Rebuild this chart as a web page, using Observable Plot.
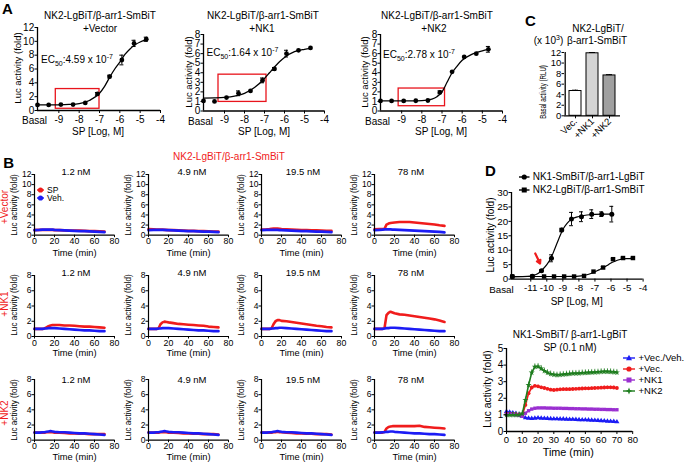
<!DOCTYPE html>
<html><head><meta charset="utf-8">
<script src="https://cdn.jsdelivr.net/npm/d3@7"></script>
<script src="https://cdn.jsdelivr.net/npm/@observablehq/plot@0.6"></script>
<style>
body{margin:0;background:#fff;}
#fig{position:relative;width:685px;height:463px;overflow:hidden;font-family:"Liberation Sans",Arial,Helvetica,sans-serif;color:#000;background:#fff;}
.t{position:absolute;white-space:nowrap;line-height:1;}
.t sub,.t sup{font-size:70%;line-height:0;}
</style></head><body><div id="fig"></div><script>
// ---------------- DATA ----------------
// Panel A: dose-response (log M); first value = Basal
const concA = [-10.05, -9.5, -8.9, -8.3, -7.7, -7.1, -6.5, -5.9, -5.3, -4.7];
const a1Y = [0.8, 0.8, 0.85, 0.85, 1.1, 2.4, 4.9, 7.3, 9.7, 10.3];
const a1E = [0.05, 0.05, 0.05, 0.05, 0.1, 0.2, 0.2, 0.7, 0.45, 0.3];
const a2Y = [1.05, 1.0, 1.4, 1.85, 2.1, 3.2, 4.4, 6.0, 6.35, 6.6];
const a2E = [0.05, 0.05, 0.05, 0.25, 0.1, 0.25, 0.15, 0.35, 0.1, 0.1];
const a3Y = [1.05, 1.05, 1.05, 1.07, 1.1, 1.95, 4.1, 5.65, 6.0, 6.45];
const a3E = [0.05, 0.05, 0.05, 0.05, 0.05, 0.15, 0.1, 0.1, 0.1, 0.3];
// fitted curves
const fit1X = [-10.05, -9.5, -9, -8.5, -8, -7.5, -7, -6.75, -6.5, -6.25, -6, -5.75, -5.5, -5.25, -5, -4.7];
const fit1Y = [0.8, 0.8, 0.82, 0.88, 1.0, 1.45, 2.5, 3.5, 4.8, 6.0, 7.0, 8.1, 8.9, 9.5, 9.9, 10.2];
const fit2X = [-10.05, -9.5, -9, -8.5, -8, -7.5, -7, -6.75, -6.5, -6.25, -6, -5.5, -5, -4.7];
const fit2Y = [1.35, 1.37, 1.42, 1.55, 1.85, 2.45, 3.4, 4.0, 4.6, 5.15, 5.6, 6.2, 6.45, 6.55];
const fit3X = [-10.05, -9.5, -9, -8.5, -8, -7.5, -7.25, -7, -6.75, -6.5, -6.25, -6, -5.5, -5, -4.7];
const fit3Y = [1.05, 1.05, 1.05, 1.05, 1.08, 1.25, 1.5, 2.0, 3.0, 4.0, 4.7, 5.3, 5.95, 6.3, 6.45];
const boxA1 = [{x1: -9.15, x2: -7.0, y1: 0.25, y2: 3.1}];
const boxA2 = [{x1: -9.3, x2: -6.9, y1: 0.95, y2: 3.8}];
const boxA3 = [{x1: -9.15, x2: -6.85, y1: 0.5, y2: 2.35}];
const ticksA = [-9, -8, -7, -6, -5, -4];
// Panel C
const cNames = ["Vec.", "+NK1", "+NK2"];
const cVals = [4.7, 11.85, 7.65];
const cErr = [0.15, 0.15, 0.15];
const cFill = ["#ffffff", "#d4d4d4", "#a0a0a0"];
// Panel B time courses
const tB = [0, 5, 8, 10, 12, 14, 16, 18, 20, 25, 30, 35, 40, 45, 50, 55, 60, 65, 70];
const concB = ["1.2 nM", "4.9 nM", "19.5 nM", "78 nM"];
const vectorSP = [
 [1.0,1.05,1.05,1.05,1.05,1.05,1.05,1.05,1.0,1.0,0.95,0.9,0.9,0.9,0.85,0.8,0.8,0.75,0.7],
 [1.2,1.15,1.1,1.1,1.1,1.1,1.05,1.05,1.0,1.0,0.95,0.9,0.85,0.85,0.8,0.8,0.75,0.7,0.7],
 [1.1,1.15,1.2,1.25,1.3,1.3,1.3,1.25,1.2,1.15,1.1,1.05,1.0,1.0,0.95,0.95,0.9,0.85,0.85],
 [1.15,1.2,1.2,1.25,2.1,2.3,2.4,2.45,2.5,2.6,2.6,2.6,2.5,2.4,2.3,2.2,2.1,1.95,1.85]];
const vectorVeh = [
 [1.0,1.05,1.1,1.1,1.1,1.1,1.1,1.1,1.05,1.0,0.95,0.9,0.85,0.8,0.8,0.75,0.7,0.65,0.6],
 [1.0,1.05,1.05,1.05,1.05,1.05,1.05,1.0,1.0,0.95,0.9,0.85,0.8,0.8,0.75,0.7,0.7,0.65,0.6],
 [1.0,1.05,1.05,1.05,1.05,1.05,1.05,1.0,1.0,0.95,0.9,0.85,0.8,0.8,0.75,0.7,0.7,0.65,0.6],
 [1.0,1.05,1.1,1.15,1.15,1.15,1.15,1.1,1.1,1.05,1.0,0.95,0.9,0.85,0.8,0.75,0.7,0.65,0.55]];
const nk1SP = [
 [1.0,1.0,1.0,1.05,1.2,1.35,1.45,1.5,1.5,1.5,1.45,1.45,1.4,1.35,1.3,1.3,1.25,1.2,1.15],
 [1.0,1.0,1.0,1.05,1.6,1.85,1.95,1.9,1.85,1.75,1.65,1.6,1.55,1.5,1.45,1.4,1.3,1.25,1.2],
 [1.0,1.0,1.0,1.05,1.6,2.0,2.15,2.15,2.05,2.0,1.9,1.8,1.7,1.6,1.5,1.4,1.35,1.25,1.2],
 [1.0,1.0,1.0,1.1,2.8,3.1,3.25,3.15,3.05,2.9,2.85,2.75,2.65,2.55,2.45,2.35,2.25,2.1,1.9]];
const nk1Veh = [
 [1.0,1.0,1.0,1.05,1.05,1.1,1.1,1.1,1.1,1.05,1.0,0.95,0.9,0.85,0.8,0.8,0.75,0.7,0.7],
 [1.0,1.0,1.0,1.05,1.05,1.1,1.1,1.1,1.1,1.05,1.0,0.95,0.9,0.85,0.8,0.8,0.75,0.7,0.7],
 [1.0,1.0,1.0,1.05,1.05,1.1,1.1,1.15,1.15,1.1,1.05,1.0,0.95,0.9,0.85,0.8,0.75,0.7,0.7],
 [1.0,1.0,1.0,1.05,1.1,1.1,1.15,1.15,1.15,1.1,1.05,1.0,0.95,0.9,0.85,0.8,0.75,0.7,0.7]];
const nk2SP = [
 [1.0,1.0,1.0,1.0,1.05,1.05,1.05,1.05,1.0,1.0,0.95,0.9,0.9,0.85,0.85,0.8,0.8,0.8,0.8],
 [1.0,1.0,1.0,1.0,1.05,1.05,1.05,1.05,1.0,1.0,0.95,0.9,0.9,0.85,0.85,0.8,0.8,0.8,0.75],
 [1.0,1.0,1.0,1.0,1.05,1.05,1.1,1.05,1.05,1.0,0.95,0.9,0.9,0.85,0.85,0.8,0.8,0.8,0.75],
 [1.0,1.0,1.0,1.1,1.55,1.75,1.8,1.85,1.85,1.85,1.85,1.85,1.85,1.9,1.75,1.7,1.65,1.6,1.55]];
const nk2Veh = [
 [1.0,1.0,1.05,1.05,1.1,1.15,1.2,1.15,1.1,1.05,1.05,1.0,0.95,0.9,0.9,0.85,0.8,0.75,0.7],
 [1.0,1.0,1.05,1.05,1.1,1.15,1.2,1.15,1.1,1.05,1.05,1.0,0.95,0.9,0.9,0.85,0.8,0.75,0.7],
 [1.0,1.0,1.05,1.05,1.1,1.15,1.2,1.15,1.1,1.05,1.05,1.0,0.95,0.9,0.9,0.85,0.8,0.75,0.7],
 [1.0,1.0,1.05,1.05,1.1,1.1,1.15,1.15,1.1,1.05,1.0,0.95,0.9,0.9,0.85,0.8,0.8,0.75,0.7]];
// Panel D top
const nk1X = [-12.15, -10.9, -10.33, -9.71, -9.07, -8.46, -7.84, -7.2, -6.58, -5.95];
const nk1Y = [0.9, 1.0, 2.9, 7.2, 17.0, 20.8, 21.6, 22.5, 22.5, 22.5];
const nk1E = [0.1, 0.1, 0.3, 1.2, 0.6, 2.3, 1.7, 1.5, 0.8, 2.7];
const nk2X = [-12.15, -10.9, -10.17, -9.55, -8.92, -8.3, -7.68, -7.09, -6.49, -5.87, -5.25, -4.63];
const nk2Y = [0.9, 0.9, 0.9, 0.9, 0.9, 0.9, 1.1, 2.6, 4.0, 6.9, 7.3, 7.3];
const nk2E = [0.1, 0.1, 0.1, 0.1, 0.1, 0.1, 0.1, 0.2, 0.3, 0.3, 0.3, 0.3];
const fitNk1X = [-12.2, -11.5, -11, -10.75, -10.5, -10.25, -10, -9.75, -9.5, -9.25, -9, -8.75, -8.5, -8, -7.5, -7, -6.5, -5.95];
const fitNk1Y = [0.8, 0.85, 1.0, 1.4, 2.1, 3.4, 5.0, 7.2, 10.5, 14.0, 17.2, 19.2, 20.6, 21.7, 22.2, 22.4, 22.5, 22.5];
const fitNk2X = [-12.2, -11, -10, -9, -8.5, -8, -7.75, -7.5, -7.25, -7, -6.75, -6.5, -6.25, -6, -5.75, -5.5, -5, -4.63];
const fitNk2Y = [0.9, 0.9, 0.9, 0.9, 0.95, 1.05, 1.2, 1.5, 1.95, 2.5, 3.2, 3.9, 4.7, 5.6, 6.2, 6.7, 7.1, 7.2];
const arrowD = [{x1: -10.72, y1: 8.9, x2: -10.42, y2: 5.4}];
const ticksD = [-11, -10, -9, -8, -7, -6, -5, -4];
// Panel D bottom
const tD = [0,2,4,6,8,10,12,14,16,18,20,22,24,26,28,30,32,34,36,38,40,42,44,46,48,50,52,54,56,58,60,62,64,66,68,70];
const vecVeh = [1.2,1.16,1.12,1.08,1.02,0.92,0.82,0.8,0.78,0.8,0.82,0.8,0.79,0.78,0.77,0.76,0.76,0.75,0.75,0.74,0.73,0.73,0.72,0.71,0.7,0.7,0.69,0.68,0.67,0.66,0.65,0.64,0.62,0.61,0.6,0.58];
const vecSP = [1.06,1.06,1.05,1.04,1.02,0.98,1.6,2.3,2.65,2.75,2.72,2.66,2.62,2.57,2.52,2.5,2.52,2.54,2.55,2.55,2.55,2.56,2.57,2.58,2.59,2.6,2.6,2.61,2.62,2.63,2.64,2.65,2.66,2.66,2.65,2.62];
const withNK1 = [1.03,1.03,1.02,1.0,0.97,0.92,1.1,1.25,1.35,1.4,1.42,1.42,1.42,1.41,1.41,1.4,1.4,1.4,1.39,1.39,1.38,1.38,1.37,1.37,1.36,1.36,1.35,1.35,1.34,1.34,1.33,1.33,1.32,1.32,1.31,1.31];
const withNK2 = [1.0,1.0,1.0,1.0,1.0,1.08,1.9,2.8,3.55,3.9,3.92,3.8,3.65,3.55,3.47,3.43,3.4,3.42,3.44,3.46,3.48,3.5,3.5,3.51,3.53,3.54,3.55,3.56,3.57,3.58,3.6,3.61,3.61,3.6,3.58,3.56];
const errD = {veh: 0.04, sp: 0.08, nk1: 0.05, nk2: 0.18};

// ---------------- HELPERS ----------------
const F = '"Liberation Sans", Arial, Helvetica, sans-serif';
const RED = "#f01c1c", BLUE = "#1c1cf5", PURPLE = "#9a2fd0", GREEN = "#1f7d1f";
const fig = document.getElementById("fig");

function txt(x, y, html, o = {}) {
  const d = document.createElement("div");
  d.className = "t";
  d.style.left = x + "px"; d.style.top = y + "px";
  d.style.fontSize = (o.size || 10) + "px";
  d.style.color = o.color || "#000";
  if (o.bold) d.style.fontWeight = "bold";
  const tx = o.anchor === "l" ? "0" : o.anchor === "r" ? "-100%" : "-50%";
  d.style.transform = `translate(${tx},-50%)` + (o.rot ? " rotate(-90deg)" : "") + (o.sx ? ` scaleX(${o.sx})` : "");
  d.innerHTML = html;
  fig.appendChild(d);
}
function swatch(x, y, color, symbol, w) {
  const ns = "http://www.w3.org/2000/svg";
  const s = document.createElementNS(ns, "svg");
  s.setAttribute("width", w + 8); s.setAttribute("height", 10);
  s.style.position = "absolute"; s.style.left = (x - 4) + "px"; s.style.top = (y - 5) + "px";
  const cx = 4 + w / 2;
  let shape;
  if (symbol === "circle") shape = `<circle cx="${cx}" cy="5" r="2.6" fill="${color}"/>`;
  else if (symbol === "square") shape = `<rect x="${cx-2.5}" y="2.5" width="5" height="5" fill="${color}"/>`;
  else if (symbol === "triangle") shape = `<path d="M${cx},1.8L${cx+3},7.2L${cx-3},7.2Z" fill="${color}"/>`;
  else shape = `<path d="M${cx},1.5L${cx+1},4L${cx+3.5},5L${cx+1},6L${cx},8.5L${cx-1},6L${cx-3.5},5L${cx-1},4Z" fill="${color}"/>`;
  s.innerHTML = `<line x1="4" x2="${4+w}" y1="5" y2="5" stroke="${color}" stroke-width="1.4"/>` + shape;
  fig.appendChild(s);
}
function panel(g, opts) {
  const m = 30;
  const svg = Plot.plot({
    width: g.x1 - g.x0 + 2 * m, height: g.y0 - g.y1 + 2 * m, margin: m,
    x: opts.x, y: opts.y, color: opts.color,
    style: {background: "transparent", overflow: "visible", fontFamily: F, fontSize: (opts.fs || 10) + "px", color: "#000"},
    marks: opts.marks
  });
  svg.style.position = "absolute"; svg.style.left = (g.x0 - m) + "px"; svg.style.top = (g.y1 - m) + "px";
  svg.style.maxWidth = "none";
  fig.appendChild(svg);
}
const rows = (xs, ys, es) => xs.map((x, i) => ({x, y: ys[i], e: es ? es[i] : 0}));
function errMarks(data, cap, minE = 0.12) {
  const d = data.filter(p => p.e >= minE);
  return [
    Plot.ruleX(d, {x: "x", y1: p => p.y - p.e, y2: p => p.y + p.e, stroke: "#000", strokeWidth: 1}),
    Plot.ruleY(d, {y: p => p.y + p.e, x1: p => p.x - cap, x2: p => p.x + cap, stroke: "#000", strokeWidth: 1}),
    Plot.ruleY(d, {y: p => p.y - p.e, x1: p => p.x - cap, x2: p => p.x + cap, stroke: "#000", strokeWidth: 1})
  ];
}
const fmt = d => String(d);

// ---------------- PANEL A ----------------
function panelA(g, ys, es, fx, fy, box, yMax) {
  const pts = rows(concA, ys, es);
  const fit = fx.map((x, i) => ({x, y: fy[i]}));
  const yt = []; for (let v = 0; v <= yMax; v += (yMax > 8 ? 2 : 1)) yt.push(v);
  panel(g, {
    x: {domain: [-10.05, -4]}, y: {domain: [0, yMax]},
    marks: [
      Plot.rect(box, {x1: "x1", x2: "x2", y1: "y1", y2: "y2", fill: "none", stroke: "#e8141c", strokeWidth: 1.3}),
      Plot.line(fit, {x: "x", y: "y", curve: "monotone-x", stroke: "#000", strokeWidth: 1.3}),
      ...errMarks(pts, 0.1),
      Plot.dot(pts, {x: "x", y: "y", r: 2.4, fill: "#000"}),
      Plot.ruleX([-10.05], {stroke: "#000", strokeWidth: 1.3}),
      Plot.ruleY([0], {stroke: "#000", strokeWidth: 1.3}),
      Plot.axisX({ticks: ticksA, tickSize: 3, tickPadding: 2, tickFormat: fmt, label: null}),
      Plot.axisX({ticks: [-10.05], tickSize: 0, tickPadding: 6.5, tickFormat: () => "Basal", dx: -3, label: null}),
      Plot.axisY({ticks: yt, tickSize: 2.5, tickPadding: 0.8, tickFormat: fmt, label: null})
    ]
  });
}
panelA({x0: 37, x1: 160, y0: 110, y1: 27}, a1Y, a1E, fit1X, fit1Y, boxA1, 12);
panelA({x0: 203, x1: 324, y0: 110.5, y1: 34}, a2Y, a2E, fit2X, fit2Y, boxA2, 8);
panelA({x0: 379.5, x1: 501.5, y0: 110.5, y1: 34}, a3Y, a3E, fit3X, fit3Y, boxA3, 8);

const titleA = "NK2-LgBiT/β-arr1-SmBiT";
txt(100, 16, titleA); txt(100, 28.5, "+Vector");
txt(263, 16, titleA); txt(262, 28.5, "+NK1");
txt(437, 16, titleA); txt(434, 28.5, "+NK2");
txt(17.5, 68, "Luc activity (fold)", {rot: true, size: 9.5});
txt(188.5, 72, "Luc activity (fold)", {rot: true, size: 9.5});
txt(365, 72, "Luc activity (fold)", {rot: true, size: 9.5});
txt(98, 132, "SP [Log, M]"); txt(264, 132, "SP [Log, M]"); txt(441, 132, "SP [Log, M]");
txt(41, 60, "EC<sub>50</sub>:4.59 x 10<sup>-7</sup>", {anchor: "l"});
txt(206.5, 53, "EC<sub>50</sub>:1.64 x 10<sup>-7</sup>", {anchor: "l"});
txt(383, 55, "EC<sub>50</sub>:2.78 x 10<sup>-7</sup>", {anchor: "l"});
txt(7.5, 8, "A", {bold: true, size: 15});

// ---------------- PANEL C ----------------
const cData = cNames.map((n, i) => ({n, v: cVals[i], e: cErr[i], f: cFill[i]}));
panel({x0: 564, x1: 620, y0: 115, y1: 51.7}, {
  x: {type: "band", domain: cNames, paddingInner: 0.28, paddingOuter: 0.222},
  y: {domain: [0, 12]}, color: {type: "identity"}, fs: 9.5,
  marks: [
    Plot.ruleX(cData, {x: "n", y1: d => d.v, y2: d => d.v + d.e, stroke: "#000", strokeWidth: 1}),
    Plot.barY(cData, {x: "n", y: "v", fill: "f", stroke: "#000", strokeWidth: 1}),
    Plot.tickY(cData, {x: "n", y: d => d.v + d.e, stroke: "#000", strokeWidth: 1, inset: 3}),
    Plot.ruleX(["Vec."], {dx: -10.3, stroke: "#000", strokeWidth: 1.3}),
    Plot.ruleY([0], {stroke: "#000", strokeWidth: 1.3}),
    Plot.axisX({tickRotate: -45, tickSize: 3, tickPadding: 1, label: null}),
    Plot.axisY({ticks: [0, 2, 4, 6, 8, 10, 12], tickSize: 2.5, tickPadding: 0.8, tickFormat: fmt, label: null})
  ]
});
txt(530.5, 19.5, "C", {bold: true, size: 15});
txt(598, 29, "NK2-LgBiT/");
txt(597, 41, "β-arr1-SmBiT");
txt(548.5, 41, "(x 10<sup>3</sup>)");
txt(542.5, 91.7, "Basal activity (RLU)", {rot: true, size: 8.5, sx: 0.72});

// ---------------- PANEL B ----------------
const colX = [33.5, 147.5, 260.5, 373.5];
const titleX = [76, 192, 303, 411];
const rowSpec = [
  {y0: 235, y1: 174.3, yMax: 12, yt: [0, 2, 4, 6, 8, 10, 12], sp: vectorSP, veh: vectorVeh, title: 172.3, time: 253.8, lab: "+Vector", labY: 207},
  {y0: 335.5, y1: 274.5, yMax: 8, yt: [0, 2, 4, 6, 8], sp: nk1SP, veh: nk1Veh, title: 273.3, time: 354.3, lab: "+NK1", labY: 304},
  {y0: 440, y1: 379.3, yMax: 8, yt: [0, 2, 4, 6, 8], sp: nk2SP, veh: nk2Veh, title: 380, time: 457.5, lab: "+NK2", labY: 413}
];
rowSpec.forEach(r => {
  colX.forEach((x0, c) => {
    const sp = tB.map((t, i) => ({t, v: r.sp[c][i]}));
    const veh = tB.map((t, i) => ({t, v: r.veh[c][i]}));
    panel({x0, x1: x0 + 80, y0: r.y0, y1: r.y1}, {
      x: {domain: [0, 80]}, y: {domain: [0, r.yMax]}, fs: 8.8,
      marks: [
        Plot.line(sp, {x: "t", y: "v", stroke: RED, strokeWidth: 2.6}),
        Plot.line(veh, {x: "t", y: "v", stroke: BLUE, strokeWidth: 2.6}),
        Plot.ruleX([0], {stroke: "#000", strokeWidth: 1.2}),
        Plot.ruleY([0], {stroke: "#000", strokeWidth: 1.2}),
        Plot.axisX({ticks: [0, 20, 40, 60, 80], tickSize: 2.5, tickPadding: 0.5, tickFormat: fmt, label: null}),
        Plot.axisY({ticks: r.yt, tickSize: 2.5, tickPadding: 0.5, tickFormat: fmt, label: null, fontSize: 8.5})
      ]
    });
    txt(titleX[c], r.title, concB[c], {size: 9.5});
    txt(x0 + 41, r.time, "Time (min)", {size: 9.3});
    txt(x0 - 18.5, (r.y0 + r.y1) / 2, "Luc activity (fold)", {rot: true, size: 8.2});
  });
  txt(5, r.labY, r.lab, {rot: true, color: RED, size: 10});
});
txt(229, 157, "NK2-LgBiT/β-arr1-SmBiT", {color: RED, size: 10});
txt(8.7, 162, "B", {bold: true, size: 15});
swatch(37, 189.5, RED, "circle", 7); txt(47, 189.5, "SP", {anchor: "l", size: 8.5});
swatch(37, 198, BLUE, "circle", 7); txt(47, 198, "Veh.", {anchor: "l", size: 8.5});

// ---------------- PANEL D top ----------------
const p1 = rows(nk1X, nk1Y, nk1E), p2 = rows(nk2X, nk2Y, nk2E);
panel({x0: 510.7, x1: 642.3, y0: 278.3, y1: 191.7}, {
  x: {domain: [-12.2, -4]}, y: {domain: [0, 30]}, fs: 9.8,
  marks: [
    Plot.line(fitNk2X.map((x, i) => ({x, y: fitNk2Y[i]})), {x: "x", y: "y", curve: "monotone-x", stroke: "#000", strokeWidth: 1.2}),
    Plot.line(fitNk1X.map((x, i) => ({x, y: fitNk1Y[i]})), {x: "x", y: "y", curve: "monotone-x", stroke: "#000", strokeWidth: 1.2}),
    ...errMarks(p1, 0.12, 0.25), ...errMarks(p2, 0.12, 0.25),
    Plot.dot(p2, {x: "x", y: "y", symbol: "square", r: 2.5, fill: "#000"}),
    Plot.dot(p1, {x: "x", y: "y", r: 2.5, fill: "#000"}),
    Plot.arrow(arrowD, {x1: "x1", y1: "y1", x2: "x2", y2: "y2", stroke: RED, strokeWidth: 2.2, headLength: 6}),
    Plot.ruleX([-12.2], {stroke: "#000", strokeWidth: 1.3}),
    Plot.ruleY([0], {stroke: "#000", strokeWidth: 1.3}),
    Plot.axisX({ticks: ticksD, tickSize: 3, tickPadding: 2, tickFormat: fmt, label: null}),
    Plot.axisX({ticks: [-12.2], tickSize: 0, tickPadding: 6.5, tickFormat: () => "Basal", dx: -10, label: null}),
    Plot.axisY({ticks: [0, 5, 10, 15, 20, 25, 30], tickSize: 2.5, tickPadding: 0.8, tickFormat: fmt, label: null})
  ]
});
txt(490.5, 170, "D", {bold: true, size: 15});
swatch(518.5, 176.7, "#000", "circle", 10.5); txt(532.7, 176.7, "NK1-SmBiT/β-arr1-LgBiT", {anchor: "l"});
swatch(518.5, 190, "#000", "square", 10.5); txt(532.7, 190, "NK2-LgBiT/β-arr1-SmBiT", {anchor: "l"});
txt(491, 235, "Luc activity (fold)", {rot: true, size: 10});
txt(576.7, 302, "SP [Log, M]");

// ---------------- PANEL D bottom ----------------
const series = [
  {v: vecVeh, c: BLUE, s: "triangle", e: errD.veh},
  {v: vecSP, c: RED, s: "circle", e: errD.sp},
  {v: withNK1, c: PURPLE, s: "square", e: errD.nk1},
  {v: withNK2, c: GREEN, s: "star", e: errD.nk2}
];
const dMarks = [];
series.forEach(S => {
  const d = tD.map((t, i) => ({t, v: S.v[i]}));
  dMarks.push(Plot.ruleX(d, {x: "t", y1: p => p.v - S.e, y2: p => p.v + S.e, stroke: S.c, strokeOpacity: 0.55, strokeWidth: 1}));
  dMarks.push(Plot.line(d, {x: "t", y: "v", stroke: S.c, strokeWidth: 1.6}));
  dMarks.push(Plot.dot(d, {x: "t", y: "v", symbol: S.s, r: 1.9, fill: S.c}));
});
panel({x0: 505.5, x1: 631.7, y0: 430.7, y1: 347.7}, {
  x: {domain: [0, 80]}, y: {domain: [0, 5]}, fs: 9.5,
  marks: [
    ...dMarks,
    Plot.ruleX([0], {stroke: "#000", strokeWidth: 1.3}),
    Plot.ruleY([0], {stroke: "#000", strokeWidth: 1.3}),
    Plot.axisX({ticks: [0, 10, 20, 30, 40, 50, 60, 70, 80], tickSize: 3, tickPadding: 1.5, tickFormat: fmt, label: null}),
    Plot.axisY({ticks: [0, 1, 2, 3, 4, 5], tickSize: 2.5, tickPadding: 0.8, tickFormat: fmt, label: null, fontSize: 10})
  ]
});
txt(570, 335, "NK1-SmBiT/ β-arr1-LgBiT");
txt(570, 347.7, "SP (0.1 nM)");
txt(488.3, 389, "Luc activity (fold)", {rot: true, size: 10.3});
txt(568.3, 452, "Time (min)", {size: 10.8});
const legD = [["+Vec./Veh.", BLUE, "triangle", 358.3], ["+Vec.", RED, "circle", 369], ["+NK1", PURPLE, "square", 380], ["+NK2", GREEN, "star", 390.7]];
legD.forEach(([n, c, s, y]) => { swatch(623, y, c, s, 12); txt(638.5, y, n, {anchor: "l", size: 9.5}); });
</script></body></html>
